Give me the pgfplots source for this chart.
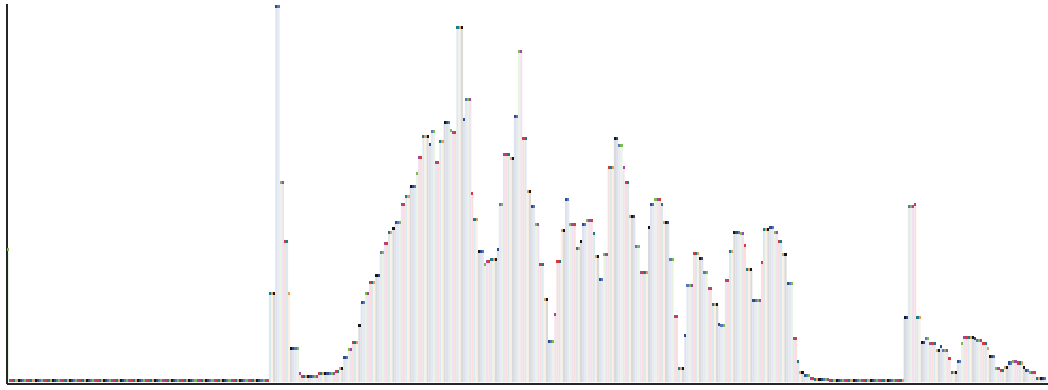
\documentclass[border=0pt]{standalone}
\usepackage{pgfplots}
\usepackage{pgfplotstable}
\pgfplotsset{compat=1.18}
\definecolor{c0}{HTML}{7DBB4E}
\definecolor{c1}{HTML}{A2479F}
\definecolor{c2}{HTML}{D9393B}
\definecolor{c3}{HTML}{1C7A86}
\definecolor{c4}{HTML}{E0A15C}
\definecolor{c5}{HTML}{151515}
\definecolor{c6}{HTML}{2B4C8C}
\definecolor{c7}{HTML}{5577BB}
\pgfplotstableread[row sep=\\]{
h\\
132\\
1.5\\1.5\\1.5\\1.5\\1.5\\1.5\\1.5\\1.5\\1.5\\1.5\\
1.5\\1.5\\1.5\\1.5\\1.5\\1.5\\1.5\\1.5\\1.5\\1.5\\
1.5\\1.5\\1.5\\1.5\\1.5\\1.5\\1.5\\1.5\\1.5\\1.5\\
1.5\\1.5\\1.5\\1.5\\1.5\\1.5\\1.5\\1.5\\1.5\\1.5\\
1.5\\1.5\\1.5\\1.5\\1.5\\1.5\\1.5\\1.5\\1.5\\1.5\\
1.5\\1.5\\1.5\\1.5\\1.5\\1.5\\1.5\\1.5\\1.5\\1.5\\
1.5\\1.5\\1.5\\1.5\\1.5\\1.5\\1.5\\1.5\\1.5\\1.5\\
1.5\\1.5\\1.5\\1.5\\1.5\\1.5\\1.5\\1.5\\1.5\\1.5\\
1.5\\1.5\\1.5\\1.5\\1.5\\1.5\\1.5\\1.5\\1.5\\1.5\\
1.5\\1.5\\1.5\\1.5\\1.5\\1.5\\1.5\\1.5\\1.5\\1.5\\
1.5\\1.5\\1.5\\1.5\\1.5\\1.5\\1.5\\1.5\\1.5\\1.5\\
1.5\\1.5\\1.5\\1.5\\1.5\\1.5\\1.5\\1.5\\1.5\\1.5\\
1.5\\1.5\\
88\\88\\88\\375\\375\\199\\199\\140\\140\\88\\
33\\33\\33\\33\\9\\6\\6\\6\\6\\6\\
6\\6\\6\\9\\9\\9\\9\\9\\9\\9\\
9\\11\\11\\14\\14\\24\\24\\32\\32\\39\\
39\\39\\56\\79\\79\\88\\88\\99\\99\\99\\
106\\106\\129\\129\\138\\138\\149\\149\\153\\159\\
159\\159\\177\\177\\185\\185\\195\\195\\195\\208\\
224\\224\\245\\245\\245\\237\\250\\250\\219\\219\\
240\\240\\259\\259\\259\\251\\249\\249\\354\\354\\
354\\262\\282\\282\\282\\188\\162\\162\\130\\130\\
130\\117\\120\\120\\122\\122\\122\\132\\177\\177\\
227\\227\\227\\223\\223\\265\\265\\330\\330\\243\\
243\\190\\190\\175\\175\\157\\157\\117\\117\\82\\
82\\40\\40\\40\\67\\120\\120\\151\\151\\182\\
182\\157\\157\\157\\133\\133\\140\\157\\157\\161\\
161\\161\\148\\125\\125\\102\\102\\127\\127\\214\\
214\\214\\243\\243\\236\\236\\214\\199\\199\\165\\
165\\165\\135\\135\\109\\109\\109\\109\\154\\177\\
177\\182\\182\\182\\177\\159\\159\\159\\122\\122\\
65\\65\\14\\14\\14\\46\\96\\96\\96\\128\\
128\\128\\123\\123\\109\\109\\93\\93\\77\\77\\
77\\57\\56\\56\\101\\101\\130\\130\\149\\149\\
149\\148\\148\\136\\112\\112\\112\\81\\81\\81\\
81\\119\\152\\152\\152\\154\\154\\149\\149\\140\\
140\\127\\127\\98\\98\\98\\43\\43\\20\\10\\
10\\7\\7\\7\\4\\4\\3\\3\\3\\3\\
3\\3\\3\\
1.5\\1.5\\1.5\\1.5\\1.5\\1.5\\1.5\\1.5\\1.5\\1.5\\
1.5\\1.5\\1.5\\1.5\\1.5\\1.5\\1.5\\1.5\\1.5\\1.5\\
1.5\\1.5\\1.5\\1.5\\1.5\\1.5\\1.5\\1.5\\1.5\\1.5\\
1.5\\1.5\\1.5\\1.5\\1.5\\
64\\64\\175\\175\\175\\177\\64\\64\\39\\39\\
43\\43\\38\\38\\38\\31\\31\\35\\31\\31\\
31\\23\\10\\10\\10\\20\\20\\38\\44\\44\\
44\\44\\44\\43\\41\\41\\41\\38\\38\\33\\
25\\25\\25\\14\\14\\12\\12\\15\\15\\19\\
19\\20\\20\\19\\19\\19\\15\\12\\12\\10\\
10\\10\\4\\4\\4\\4\\4\\
}\data
\pgfplotstablecreatecol[create col/expr={8+2.13*\pgfplotstablerow}]{x}\data
\pgfplotstablecreatecol[create col/expr={mod(\pgfplotstablerow,8)}]{c}\data
\begin{document}
\begin{tikzpicture}
\useasboundingbox (-3.5pt,-3pt) rectangle (520.5pt,192pt);
\begin{axis}[
  at={(0,0)}, anchor=south west,
  x=0.5pt, y=0.5pt,
  xmin=7, xmax=1048, ymin=-2, ymax=378,
  axis x line=bottom, axis y line=left,
  axis line style={-, line width=1pt, draw=black!85},
  xtick=\empty, ytick=\empty,
  axis on top,
]
\pgfplotsinvokeforeach{0,...,7}{
  \addplot[ybar, bar width=2.13, bar shift=0pt, draw=none, fill=c#1!16,
    restrict expr to domain={\thisrow{c}-#1}{-0.5:0.5}]
    table[x=x, y=h]{\data};
}
\pgfplotsinvokeforeach{0,...,7}{
  \addplot[only marks, color=c#1, mark=-, mark size=0.5325pt,
    mark options={line width=1.5pt},
    restrict expr to domain={\thisrow{c}-#1}{-0.5:0.5}]
    table[x=x, y=h]{\data};
}
\end{axis}
\end{tikzpicture}
\end{document}
